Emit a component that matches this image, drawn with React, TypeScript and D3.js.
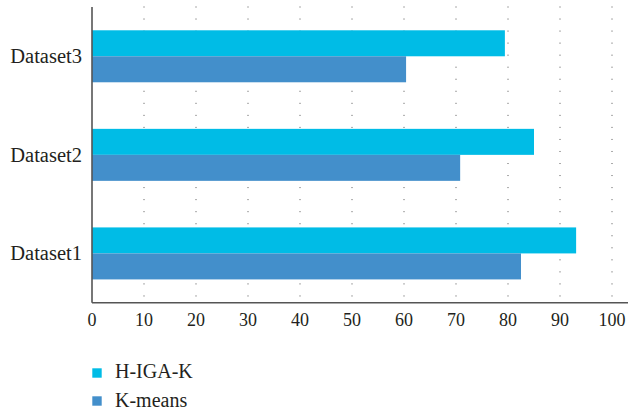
import React from "react";
import * as d3 from "d3";

const categories = ["Dataset1", "Dataset2", "Dataset3"];
const seriesNames = ["H-IGA-K", "K-means"];
const hIgaK = [93.1, 85.0, 79.4];
const kMeans = [82.5, 70.8, 60.4];
const xTicks = [0, 10, 20, 30, 40, 50, 60, 70, 80, 90, 100];
const colors = ["#00BCE6", "#438FCB"];

const W = 629;
const H = 415;
const left = 92;
const top = 7;
const axisY = 302.7;
const font = '"Liberation Serif", "DejaVu Serif", serif';
const textColor = "#231F20";

export default function App() {
  const x = d3.scaleLinear().domain([0, 100]).range([left, 612]);
  const y = d3
    .scaleBand<string>()
    .domain([...categories].reverse())
    .range([top, axisY])
    .paddingInner(0)
    .paddingOuter(0);
  const inner = d3
    .scaleBand<string>()
    .domain(seriesNames)
    .range([0, 52]);
  const series = [hIgaK, kMeans];

  return (
    <svg
      width={W}
      height={H}
      style={{ position: "absolute", left: 0, top: 0, background: "#fff", fontFamily: font }}
    >
      {xTicks
        .filter((t) => t > 0)
        .map((t) => (
          <line
            key={"g" + t}
            x1={x(t)}
            x2={x(t)}
            y1={top - 0.5}
            y2={axisY - 5}
            stroke="#555"
            strokeWidth={1}
            strokeDasharray="1 11.04"
          />
        ))}
      {categories.map((c, i) => {
        const bandStart = (y(c) as number) + (y.bandwidth() - 52) / 2;
        return (
          <g key={c}>
            {series.map((s, j) => (
              <rect
                key={j}
                x={x(0)}
                y={bandStart + (inner(seriesNames[j]) as number)}
                width={x(s[i]) - x(0)}
                height={inner.bandwidth()}
                fill={colors[j]}
              />
            ))}
            <text
              x={82}
              y={(y(c) as number) + y.bandwidth() / 2 + 7}
              textAnchor="end"
              style={{ fontFamily: font, fontSize: "20.5px" }}
              fill={textColor}
            >
              {c}
            </text>
          </g>
        );
      })}
      <line x1={left} x2={left} y1={top} y2={axisY} stroke="#555" strokeWidth={1.6} />
      <line x1={left} x2={628} y1={axisY} y2={axisY} stroke="#555" strokeWidth={1.6} />
      {xTicks.map((t) => (
        <text
          key={"t" + t}
          x={x(t)}
          y={326}
          textAnchor="middle"
          style={{ fontFamily: font, fontSize: "18px" }}
          fill={textColor}
        >
          {t}
        </text>
      ))}
      {seriesNames.map((n, j) => (
        <g key={n}>
          <rect x={92.3} y={368.3 + j * 28} width={9.4} height={9.4} fill={colors[j]} />
          <text
            x={115}
            y={378.3 + j * 28.6}
            style={{ fontFamily: font, fontSize: "20px" }}
            fill={textColor}
          >
            {n}
          </text>
        </g>
      ))}
    </svg>
  );
}
